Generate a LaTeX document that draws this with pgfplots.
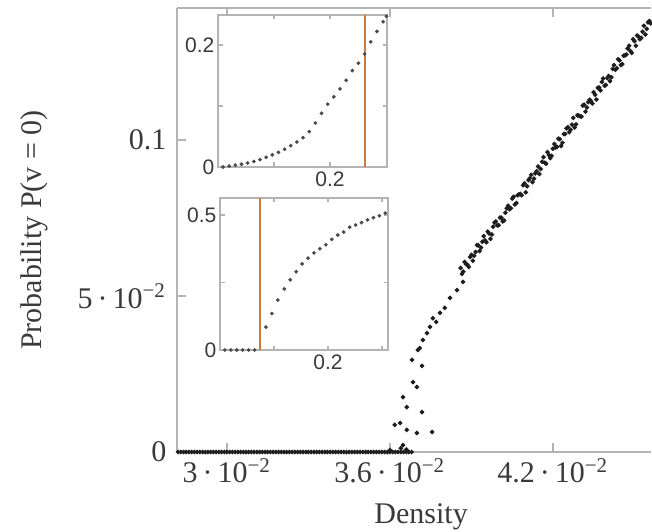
\documentclass[border=0pt]{standalone}
\usepackage{fontspec}
\setmainfont{Liberation Serif}
\setsansfont{Liberation Sans}
\usepackage{pgfplots}
\pgfplotsset{compat=1.18}
\definecolor{axgray}{HTML}{B4B4B4}
\definecolor{vline}{HTML}{C97A3C}
\definecolor{dot}{HTML}{1E1E1E}
\definecolor{labgray}{HTML}{3A3A3A}

\pgfplotstableread{
x y
0.0282 0
0.0283 0
0.0284 0
0.0285 0
0.0286 0
0.0287 0
0.0288 0
0.0289 0
0.0290 0
0.0291 0
0.0292 0
0.0293 0
0.0294 0
0.0295 0
0.0296 0
0.0297 0
0.0298 0
0.0299 0
0.0300 0
0.0301 0
0.0302 0
0.0303 0
0.0304 0
0.0305 0
0.0306 0
0.0307 0
0.0308 0
0.0309 0
0.0310 0
0.0311 0
0.0312 0
0.0313 0
0.0314 0
0.0315 0
0.0316 0
0.0317 0
0.0318 0
0.0319 0
0.0320 0
0.0321 0
0.0322 0
0.0323 0
0.0324 0
0.0325 0
0.0326 0
0.0327 0
0.0328 0
0.0329 0
0.0330 0
0.0331 0
0.0332 0
0.0333 0
0.0334 0
0.0335 0
0.0336 0
0.0337 0
0.0338 0
0.0339 0
0.0340 0
0.0341 0
0.0342 0
0.0343 0
0.0344 0
0.0345 0
0.0346 0
0.0347 0
0.0348 0
0.0349 0
0.0350 0
0.0351 0
0.0352 0
0.0353 0
0.0354 0
0.0355 0
0.0356 0
0.0357 0
0.0358 0
0.0359 0
0.0360 0
0.0361 0
0.0362 0
0.0363 0
0.0364 0
0.0365 0
0.0366 0
0.0367 0
0.0368 0
0.0360 0.0006
0.0364 0.0012
0.0366 0.0008
0.03648 0.0022
0.03618 0.0087
0.03637 0.0093
0.03662 0.0071
0.03699 0.0061
0.03755 0.0064
0.03718 0.0128
0.03662 0.0144
0.03648 0.0176
0.03699 0.0208
0.03685 0.0224
0.03718 0.0276
0.03681 0.0295
0.03703 0.0327
0.03710 0.0333
0.03721 0.0359
0.03736 0.0381
0.03747 0.0401
0.03758 0.0429
0.03770 0.0417
0.03784 0.0446
0.03802 0.0462
0.03821 0.0494
0.03847 0.0519
0.03869 0.0545
}\lowdata

\pgfplotstableread{
x y
0.0386 0.0590
0.0387 0.0578
0.0388 0.0602
0.0389 0.0593
0.0390 0.0632
0.0391 0.0629
0.0392 0.0663
0.0393 0.0644
0.0394 0.0674
0.0395 0.0678
0.0396 0.0706
0.0397 0.0683
0.0398 0.0722
0.0399 0.0739
0.0400 0.0727
0.0401 0.0751
0.0402 0.0742
0.0403 0.0781
0.0404 0.0778
0.0405 0.0812
0.0406 0.0793
0.0407 0.0823
0.0408 0.0827
0.0409 0.0855
0.0410 0.0832
0.0411 0.0871
0.0412 0.0888
0.0413 0.0876
0.0414 0.0900
0.0415 0.0891
0.0416 0.0930
0.0417 0.0927
0.0418 0.0961
0.0419 0.0942
0.0420 0.0972
0.0421 0.0976
0.0422 0.1004
0.0423 0.0981
0.0424 0.1019
0.0425 0.1037
0.0426 0.1025
0.0427 0.1049
0.0428 0.1040
0.0429 0.1079
0.0430 0.1076
0.0431 0.1110
0.0432 0.1091
0.0433 0.1121
0.0434 0.1125
0.0435 0.1153
0.0436 0.1130
0.0437 0.1168
0.0438 0.1186
0.0439 0.1174
0.0440 0.1198
0.0441 0.1189
0.0442 0.1228
0.0443 0.1225
0.0444 0.1259
0.0445 0.1240
0.0446 0.1270
0.0447 0.1274
0.0448 0.1302
0.0449 0.1279
0.0450 0.1317
0.0451 0.1335
0.0452 0.1323
0.0453 0.1347
0.0454 0.1338
0.0455 0.1377
0.0456 0.1374
0.03865 0.0571
0.03875 0.0609
0.03885 0.0600
0.03895 0.0625
0.03905 0.0613
0.03915 0.0641
0.03925 0.0662
0.03935 0.0655
0.03945 0.0692
0.03955 0.0672
0.03965 0.0700
0.03975 0.0697
0.03985 0.0735
0.03995 0.0726
0.04005 0.0751
0.04015 0.0739
0.04025 0.0767
0.04035 0.0789
0.04045 0.0781
0.04055 0.0818
0.04065 0.0798
0.04075 0.0826
0.04085 0.0823
0.04095 0.0861
0.04105 0.0852
0.04115 0.0877
0.04125 0.0865
0.04135 0.0893
0.04145 0.0915
0.04155 0.0907
0.04165 0.0945
0.04175 0.0924
0.04185 0.0952
0.04195 0.0949
0.04205 0.0987
0.04215 0.0978
0.04225 0.1003
0.04235 0.0991
0.04245 0.1019
0.04255 0.1041
0.04265 0.1033
0.04275 0.1071
0.04285 0.1050
0.04295 0.1078
0.04305 0.1075
0.04315 0.1113
0.04325 0.1104
0.04335 0.1129
0.04345 0.1117
0.04355 0.1145
0.04365 0.1167
0.04375 0.1159
0.04385 0.1197
0.04395 0.1176
0.04405 0.1205
0.04415 0.1201
0.04425 0.1240
0.04435 0.1230
0.04445 0.1255
0.04455 0.1243
0.04465 0.1271
0.04475 0.1293
0.04485 0.1285
0.04495 0.1323
0.04505 0.1302
0.04515 0.1331
0.04525 0.1327
0.04535 0.1366
0.04545 0.1356
0.04555 0.1381
}\highdata

\pgfplotstableread{
x y
0.009 0
0.020 0.0015
0.031 0.0030
0.042 0.0045
0.053 0.0065
0.064 0.0090
0.075 0.0120
0.086 0.0160
0.097 0.0200
0.108 0.0240
0.119 0.0290
0.130 0.0350
0.141 0.0410
0.152 0.0480
0.163 0.0580
0.174 0.0720
0.185 0.0880
0.196 0.1030
0.207 0.1150
0.218 0.1280
0.229 0.1420
0.240 0.1580
0.251 0.1700
0.262 0.1850
0.273 0.2050
0.284 0.2220
0.295 0.2380
0.301 0.2470
}\insetA

\pgfplotstableread{
x y
0.009 0
0.020 0
0.031 0
0.042 0
0.053 0
0.064 0
0.085 0.085
0.096 0.135
0.107 0.185
0.119 0.226
0.130 0.260
0.141 0.290
0.152 0.319
0.163 0.340
0.174 0.360
0.185 0.375
0.196 0.390
0.207 0.410
0.218 0.426
0.229 0.437
0.240 0.455
0.251 0.463
0.262 0.472
0.273 0.482
0.284 0.490
0.295 0.497
0.306 0.507
}\insetB

\begin{document}
\begin{tikzpicture}[x=1pt,y=1pt]
\path[use as bounding box] (0,0) rectangle (217.333,177);
\begin{axis}[
  at={(59pt,26.333pt)}, anchor=south west,
  scale only axis, width=158pt, height=148pt,
  xmin=0.02816, xmax=0.04561, ymin=0, ymax=0.1423,
  axis x line*=box, axis y line*=left,
  axis line style={axgray, line width=0.5pt},
  tick align=inside, major tick length=3pt,
  tick style={axgray, line width=0.5pt},
  clip=false,
  scaled x ticks=false, scaled y ticks=false,
  xtick={0.03,0.036,0.042},
  xticklabels={3\,·\,10\textsuperscript{−2}, 3.6\,·\,10\textsuperscript{−2}, 4.2\,·\,10\textsuperscript{−2}},
  ytick={0,0.05,0.1},
  yticklabels={0, 5\,·\,10\textsuperscript{−2}, 0.1},
  ticklabel style={font=\fontsize{10}{12}\selectfont, text=labgray},
  xticklabel style={yshift=1.5pt},
  xlabel={Density},
  ylabel={Probability P(v = 0)},
  label style={font=\fontsize{10}{12}\selectfont, text=labgray},
  x label style={at={(axis description cs:0.515,-0.147)}, anchor=center},
  y label style={at={(axis description cs:-0.30,0.5)}, anchor=center},
]
\addplot[only marks, mark=*, mark size=0.55pt, dot, mark options={draw=dot, fill=dot}] table[x=x,y=y] {\lowdata};
\addplot[only marks, mark=*, mark size=0.55pt, dot, mark options={draw=dot, fill=dot}] table[x=x,y=y] {\highdata};
\end{axis}

% inset 1
\begin{axis}[
  at={(72.667pt,121.333pt)}, anchor=south west,
  scale only axis, width=56.333pt, height=50.667pt,
  xmin=0, xmax=0.302, ymin=0, ymax=0.249,
  axis background/.style={fill=white},
  axis line style={axgray, line width=0.4pt},
  tick align=inside, major tick length=1.5pt,
  tick style={axgray, line width=0.4pt},
  scaled x ticks=false, scaled y ticks=false,
  xtick={0.1,0.2}, xticklabels={,0.2},
  ytick={0,0.1,0.2}, yticklabels={0,,0.2},
  ticklabel style={font=\sffamily\fontsize{7}{8}\selectfont, text=labgray},
  yticklabel style={inner sep=1pt},
  xticklabel style={inner sep=1.5pt},
  clip=false,
]
\addplot[vline, line width=0.6pt] coordinates {(0.2625,0) (0.2625,0.249)};
\addplot[only marks, mark=*, mark size=0.4pt, mark options={draw=dot!80, fill=dot!80}] table[x=x,y=y] {\insetA};
\end{axis}

% inset 2
\begin{axis}[
  at={(73.333pt,60.333pt)}, anchor=south west,
  scale only axis, width=56pt, height=50.667pt,
  xmin=0, xmax=0.311, ymin=0, ymax=0.563,
  axis background/.style={fill=white},
  axis line style={axgray, line width=0.4pt},
  tick align=inside, major tick length=1.5pt,
  tick style={axgray, line width=0.4pt},
  scaled x ticks=false, scaled y ticks=false,
  xtick={0.1,0.2,0.3}, xticklabels={,0.2,},
  ytick={0,0.25,0.5}, yticklabels={0,,0.5},
  ticklabel style={font=\sffamily\fontsize{7}{8}\selectfont, text=labgray},
  yticklabel style={inner sep=1pt},
  xticklabel style={inner sep=1.5pt},
  clip=false,
]
\addplot[vline, line width=0.6pt] coordinates {(0.074,0) (0.074,0.563)};
\addplot[only marks, mark=*, mark size=0.4pt, mark options={draw=dot!80, fill=dot!80}] table[x=x,y=y] {\insetB};
\end{axis}
\end{tikzpicture}
\end{document}
